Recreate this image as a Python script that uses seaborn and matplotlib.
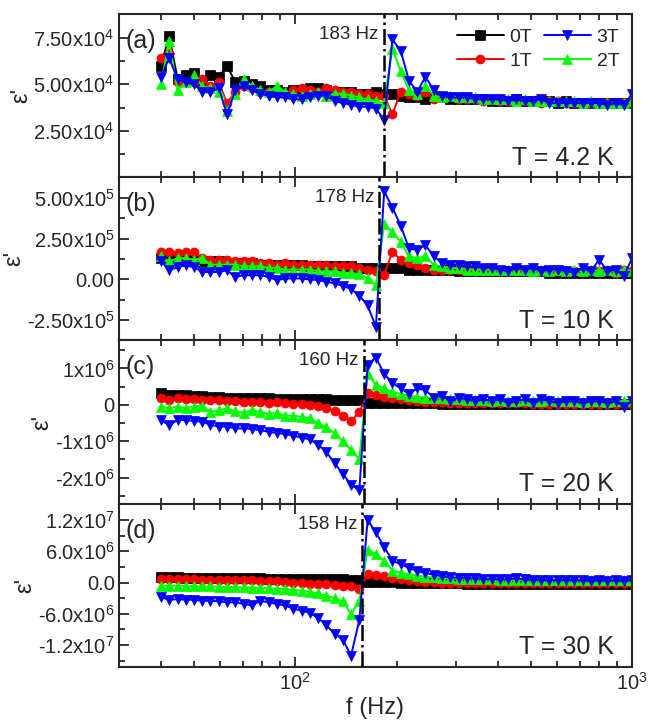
import numpy as np
import matplotlib
matplotlib.use('Agg')
import matplotlib.pyplot as plt
import matplotlib.ticker as mticker
from matplotlib.transforms import blended_transform_factory
import seaborn as sns

#%% data
freq_hz = [40.0, 42.3, 44.8, 47.4, 50.1, 53.0, 56.1, 59.4, 62.8, 66.5,
           70.4, 74.4, 78.8, 83.4, 88.2, 93.3, 98.7, 104.5, 110.5, 117.0,
           123.8, 130.9, 138.6, 146.6, 155.1, 164.1, 173.7, 183.8, 194.4, 205.7,
           217.7, 230.3, 243.7, 257.9, 272.8, 288.7, 305.5, 323.2, 342.0, 361.9,
           382.9, 405.1, 428.7, 453.6, 479.9, 507.8, 537.3, 568.5, 601.5, 636.5,
           673.4, 712.6, 754.0, 797.8, 844.1, 893.1, 945.0, 1000.0]

# (a) T = 4.2 K, units of 1e4
a_0T = [6.0, 7.6, 5.3, 5.5, 5.6, 5.2, 5.5, 5.4, 6.0, 5.1,
        5.2, 5.0, 4.9, 4.7, 4.7, 4.6, 4.7, 4.7, 4.8, 4.8,
        4.7, 4.6, 4.6, 4.6, 4.5, 4.5, 4.6, 4.5, 4.5, 4.4,
        4.3, 4.3, 4.2, 4.3, 4.3, 4.2, 4.2, 4.2, 4.2, 4.2,
        4.1, 4.1, 4.1, 4.2, 4.1, 4.1, 4.1, 4.1, 4.0, 4.1,
        4.0, 4.0, 4.0, 4.0, 4.0, 4.0, 4.0, 4.0]
a_1T = [6.4, 6.7, 5.1, 5.1, 5.1, 5.3, 4.9, 5.1, 4.0, 4.6,
        4.9, 4.8, 4.6, 4.6, 4.6, 4.5, 4.7, 4.8, 4.7, 4.6,
        4.8, 4.7, 4.6, 4.6, 4.5, 4.5, 4.4, 4.4, 3.4, 4.6,
        4.5, 4.4, 4.6, 4.2, 4.3, 4.3, 4.2, 4.2, 4.2, 4.1,
        4.2, 4.1, 4.1, 4.1, 4.1, 4.1, 4.0, 4.1, 4.1, 4.0,
        4.0, 4.0, 4.0, 4.0, 4.0, 4.0, 4.0, 4.0]
a_2T = [5.0, 7.3, 4.7, 5.1, 5.5, 4.9, 4.8, 4.6, 3.6, 4.5,
        5.3, 4.9, 4.7, 4.6, 4.9, 4.6, 4.5, 4.4, 4.5, 4.6,
        4.4, 4.5, 4.5, 4.4, 4.3, 4.2, 4.1, 4.0, 6.9, 5.7,
        4.7, 4.5, 4.9, 4.4, 4.3, 4.4, 4.3, 4.3, 4.3, 4.2,
        4.2, 4.2, 4.2, 4.1, 4.2, 4.1, 4.1, 4.1, 4.1, 4.1,
        4.1, 4.0, 4.1, 4.0, 4.0, 4.0, 4.0, 4.1]
a_3T = [5.4, 6.4, 5.3, 5.1, 5.0, 4.6, 4.6, 4.8, 3.4, 4.7,
        4.9, 4.7, 4.5, 4.4, 4.3, 4.3, 4.2, 4.2, 4.3, 4.4,
        4.4, 4.1, 4.0, 3.9, 3.8, 3.8, 3.7, 3.1, 7.4, 6.8,
        5.2, 4.6, 5.4, 4.7, 4.4, 4.3, 4.3, 4.3, 4.2, 4.2,
        4.2, 4.2, 4.1, 4.2, 4.1, 4.1, 4.2, 4.0, 4.0, 4.0,
        4.0, 4.0, 4.0, 4.0, 3.9, 4.0, 3.9, 4.5]

# (b) T = 10 K, units of 1e5
b_0T = [1.3, 1.3, 1.2, 1.2, 1.2, 1.1, 1.1, 1.1, 1.0, 1.0,
        1.0, 1.0, 0.9, 0.9, 0.9, 0.9, 0.9, 0.9, 0.8, 0.8,
        0.8, 0.8, 0.8, 0.8, 0.7, 0.7, 0.7, 0.7, 0.7, 0.7,
        0.6, 0.6, 0.6, 0.6, 0.6, 0.6, 0.5, 0.5, 0.5, 0.5,
        0.5, 0.5, 0.5, 0.5, 0.5, 0.5, 0.5, 0.4, 0.4, 0.4,
        0.4, 0.4, 0.4, 0.4, 0.4, 0.4, 0.4, 0.4]
b_1T = [1.7, 1.7, 1.6, 1.7, 1.7, 1.3, 1.2, 1.2, 1.2, 1.1,
        1.1, 1.1, 1.0, 1.0, 0.9, 1.0, 0.9, 0.9, 0.9, 0.9,
        0.9, 0.8, 0.8, 0.8, 0.7, 0.6, 0.5, 0.25, 1.7, 1.2,
        1.0, 0.9, 0.7, 0.6, 0.6, 0.6, 0.6, 0.6, 0.5, 0.5,
        0.5, 0.5, 0.5, 0.5, 0.5, 0.5, 0.5, 0.5, 0.5, 0.5,
        0.5, 0.5, 0.5, 0.5, 0.5, 0.4, 0.6, 0.5]
b_2T = [1.4, 1.1, 1.3, 1.3, 1.2, 1.3, 0.9, 0.9, 0.9, 0.9,
        0.8, 0.8, 0.8, 0.7, 0.7, 0.6, 0.6, 0.6, 0.6, 0.5,
        0.5, 0.5, 0.4, 0.4, 0.3, 0.1, -0.35, 3.4, 2.9, 2.3,
        1.4, 1.3, 1.4, 0.9, 0.8, 0.7, 0.7, 0.6, 0.6, 0.6,
        0.6, 0.6, 0.6, 0.6, 0.6, 0.5, 0.6, 0.5, 0.6, 0.5,
        0.6, 0.5, 0.6, 0.5, 0.6, 0.5, 0.6, 0.5]
b_3T = [1.15, 0.55, 0.75, 0.85, 0.75, 0.45, 0.45, 0.45, 0.55, 0.15,
        0.25, 0.25, 0.25, 0.15, -0.05, 0.05, 0.05, 0.05, 0.0, -0.05,
        -0.15, -0.25, -0.4, -0.6, -1.0, -1.6, -2.9, 5.4, 4.4, 3.3,
        1.9, 1.8, 2.1, 1.4, 1.0, 0.9, 0.9, 0.8, 0.8, 0.7,
        0.7, 0.6, 0.5, 0.7, 0.6, 0.7, 0.5, 0.6, 0.6, 0.5,
        0.4, 0.7, 0.5, 1.2, 0.5, 0.6, 0.2, 1.3]

# (c) T = 20 K, units of 1e6
c_0T = [0.32, 0.27, 0.26, 0.26, 0.25, 0.24, 0.22, 0.22, 0.20, 0.20,
        0.20, 0.19, 0.18, 0.18, 0.17, 0.17, 0.16, 0.16, 0.15, 0.15,
        0.15, 0.14, 0.14, 0.13, 0.12, 0.06, 0.05, 0.05, 0.05, 0.05,
        0.04, 0.04, 0.04, 0.04, 0.03, 0.03, 0.03, 0.03, 0.03, 0.03,
        0.03, 0.03, 0.03, 0.02, 0.02, 0.02, 0.02, 0.02, 0.02, 0.02,
        0.02, 0.02, 0.02, 0.02, 0.02, 0.02, 0.02, 0.02]
c_1T = [0.18, 0.12, 0.20, 0.17, 0.15, 0.12, 0.14, 0.12, 0.10, 0.10,
        0.08, 0.08, 0.07, 0.05, 0.07, 0.04, 0.03, 0.02, 0.00, -0.03,
        -0.08, -0.17, -0.32, -0.44, -0.21, 0.32, 0.27, 0.22, 0.18, 0.15,
        0.12, 0.10, 0.09, 0.08, 0.07, 0.06, 0.06, 0.05, 0.05, 0.05,
        0.05, 0.04, 0.04, 0.04, 0.04, 0.03, 0.03, 0.03, 0.03, 0.03,
        0.03, 0.03, 0.03, 0.03, 0.03, 0.03, 0.03, 0.03]
c_2T = [-0.05, -0.10, -0.05, -0.10, -0.05, -0.02, -0.20, -0.15, -0.10, -0.18,
        -0.22, -0.15, -0.20, -0.25, -0.22, -0.30, -0.30, -0.33, -0.37, -0.50,
        -0.62, -0.78, -1.00, -1.25, -1.50, 0.85, 0.55, 0.45, 0.35, 0.30,
        0.25, 0.22, 0.20, 0.20, 0.18, 0.15, 0.15, 0.13, 0.12, 0.12,
        0.10, 0.12, 0.10, 0.10, 0.12, 0.10, 0.10, 0.12, 0.10, 0.10,
        0.10, 0.08, 0.10, 0.10, 0.08, 0.10, 0.10, 0.12]
c_3T = [-0.42, -0.56, -0.42, -0.42, -0.45, -0.46, -0.55, -0.60, -0.60, -0.65,
        -0.65, -0.66, -0.70, -0.74, -0.78, -0.80, -0.85, -0.90, -0.95, -1.10,
        -1.30, -1.60, -1.90, -2.20, -2.35, 1.10, 1.30, 0.85, 0.60, 0.45,
        0.30, 0.45, 0.40, 0.20, 0.25, 0.10, 0.20, 0.15, 0.10, 0.15,
        0.10, 0.15, 0.05, 0.10, 0.15, 0.05, 0.15, 0.10, 0.05, 0.10,
        0.10, 0.05, 0.10, 0.10, 0.05, 0.10, -0.05, 0.10]

# (d) T = 30 K, units of 1e6
d_0T = [1.0, 1.0, 1.0, 0.95, 0.95, 0.9, 0.9, 0.9, 0.85, 0.85,
        0.8, 0.8, 0.8, 0.75, 0.75, 0.7, 0.7, 0.7, 0.65, 0.65,
        0.6, 0.6, 0.6, 0.55, 0.5, 0.1, 0.1, 0.05, 0.05, 0.0,
        -0.05, -0.1, -0.1, -0.1, -0.15, -0.15, -0.15, -0.2, -0.2, -0.2,
        -0.2, -0.2, -0.2, -0.2, -0.2, -0.2, -0.2, -0.2, -0.2, -0.2,
        -0.2, -0.2, -0.2, -0.2, -0.2, -0.2, -0.2, -0.2]
d_1T = [0.6, 0.6, 0.6, 0.6, 0.6, 0.55, 0.55, 0.5, 0.5, 0.5,
        0.45, 0.4, 0.35, 0.3, 0.2, 0.1, 0.0, -0.1, -0.2, -0.3,
        -0.35, -0.45, -0.6, -0.75, -1.2, 1.6, 1.5, 1.2, 0.9, 0.6,
        0.4, 0.2, 0.1, 0.05, 0.0, -0.1, -0.1, -0.1, -0.15, -0.15,
        -0.15, -0.15, -0.15, -0.15, -0.15, -0.15, -0.15, -0.15, -0.15, -0.15,
        -0.15, -0.15, -0.15, -0.15, -0.15, -0.15, -0.15, -0.15]
d_2T = [-0.6, -0.6, -0.6, -0.65, -0.7, -0.75, -0.75, -0.8, -0.85, -0.9,
        -0.95, -1.0, -1.05, -1.1, -1.2, -1.3, -1.4, -1.6, -1.8, -2.1,
        -2.5, -3.0, -3.6, -6.0, -3.6, 6.3, 5.4, 4.2, 2.3, 1.9,
        1.6, 1.3, 1.1, 1.0, 0.9, 0.8, 0.7, 0.7, 0.6, 0.6,
        0.6, 0.5, 0.5, 0.5, 0.5, 0.4, 0.5, 0.4, 0.4, 0.4,
        0.4, 0.4, 0.4, 0.4, 0.4, 0.4, 0.4, 0.5]
d_3T = [-2.8, -3.3, -3.2, -3.3, -3.3, -3.5, -3.5, -3.6, -3.8, -3.8,
        -4.1, -4.4, -3.5, -3.8, -4.1, -4.4, -5.0, -5.4, -5.8, -6.8,
        -8.2, -9.8, -11.0, -14.0, -7.2, 12.0, 9.6, 6.8, 4.2, 3.5,
        2.8, 2.2, 1.8, 1.5, 1.2, 1.0, 0.9, 0.8, 0.8, 0.7,
        0.7, 0.6, 0.6, 0.8, 0.6, 0.5, 0.5, 0.4, 0.4, 0.5,
        0.4, 0.4, 0.3, 0.4, 0.3, 0.4, 0.3, 0.5]

series_labels = ['0T', '1T', '2T', '3T']
series_colors = ['#000000', '#ff0000', '#00ff00', '#0000ff']
series_markers = ['s', 'o', '^', 'v']

panel_tags = ['(a)', '(b)', '(c)', '(d)']
panel_temps = ['T = 4.2 K', 'T = 10 K', 'T = 20 K', 'T = 30 K']
panel_fc = [183, 178, 160, 158]
panel_fc_text = ['183 Hz', '178 Hz', '160 Hz', '158 Hz']
panel_unit = [1e4, 1e5, 1e6, 1e6]
panel_data = [[a_0T, a_1T, a_2T, a_3T], [b_0T, b_1T, b_2T, b_3T],
              [c_0T, c_1T, c_2T, c_3T], [d_0T, d_1T, d_2T, d_3T]]
panel_ylim = [(0.04e4, 8.77e4), (-3.75e5, 6.27e5), (-2.72e6, 1.77e6), (-1.62e7, 1.51e7)]
panel_yticks = [[2.5e4, 5.0e4, 7.5e4], [-2.5e5, 0, 2.5e5, 5.0e5],
                [-2e6, -1e6, 0, 1e6], [-1.2e7, -6e6, 0, 6e6, 1.2e7]]
panel_yticklabels = [['2.50x10$^{4}$', '5.00x10$^{4}$', '7.50x10$^{4}$'],
                     ['-2.50x10$^{5}$', '0.00', '2.50x10$^{5}$', '5.00x10$^{5}$'],
                     ['-2x10$^{6}$', '-1x10$^{6}$', '0', '1x10$^{6}$'],
                     ['-1.2x10$^{7}$', '-6.0x10$^{6}$', '0.0', '6.0x10$^{6}$', '1.2x10$^{7}$']]
panel_yminor = [1.25e4, 1.25e5, 0.5e6, 3e6]

#%% figure
sns.set_style("ticks")
plt.rcParams['font.family'] = ['Liberation Sans', 'DejaVu Sans']
plt.rcParams['mathtext.fontset'] = 'custom'
plt.rcParams['mathtext.rm'] = 'Liberation Sans'
plt.rcParams['mathtext.it'] = 'Liberation Sans:italic'
plt.rcParams['mathtext.default'] = 'rm'

fig, axes = plt.subplots(4, 1, figsize=(6.64, 7.27), dpi=100, sharex=True)
fig.subplots_adjust(left=0.179, right=0.952, top=0.981, bottom=0.0825, hspace=0)

for i, ax in enumerate(axes):
    handles = []
    for vals, lab, col, mk in zip(panel_data[i], series_labels, series_colors, series_markers):
        y = np.array(vals) * panel_unit[i]
        sns.lineplot(x=freq_hz, y=y, ax=ax, color=col, marker=mk, markersize=6.5,
                     markeredgecolor=col, markeredgewidth=0.5, linewidth=1.4,
                     label=lab, legend=False, sort=False)
        handles.append(ax.lines[-1])
    if ax.get_legend():
        ax.get_legend().remove()

    ax.axvline(panel_fc[i], color='k', ls='-.', lw=1.8, zorder=5)
    trans = blended_transform_factory(ax.transData, ax.transAxes)
    ax.text(panel_fc[i] / 1.035, 0.875, panel_fc_text[i], transform=trans,
            ha='right', va='center', fontsize=13.5)
    ax.text(0.012, 0.835, panel_tags[i], transform=ax.transAxes,
            ha='left', va='center', fontsize=18)
    ax.text(0.965, 0.12, panel_temps[i], transform=ax.transAxes,
            ha='right', va='center', fontsize=18)

    ax.set_xscale('log')
    ax.set_xlim(30, 1000)
    ax.set_ylim(*panel_ylim[i])
    ax.yaxis.set_major_locator(mticker.FixedLocator(panel_yticks[i]))
    ax.yaxis.set_major_formatter(mticker.FixedFormatter(panel_yticklabels[i]))
    ax.yaxis.set_minor_locator(mticker.MultipleLocator(panel_yminor[i]))
    ax.xaxis.set_major_locator(mticker.LogLocator(base=10))
    ax.xaxis.set_minor_locator(mticker.LogLocator(base=10, subs=np.arange(2, 10)))
    ax.xaxis.set_minor_formatter(mticker.NullFormatter())

    ax.tick_params(which='both', direction='in', top=True, right=False, width=1.3,
                   labelsize=14.5)
    ax.tick_params(axis='y', pad=3)
    ax.tick_params(which='major', length=7)
    ax.tick_params(which='minor', length=4)
    for s in ax.spines.values():
        s.set_linewidth(1.5)
    ax.set_ylabel("ε'", fontsize=17, labelpad=1)
    ax.set_xlabel('')

    if i == 0:
        order = [0, 1, 3, 2]
        ax.legend([handles[j] for j in order], [series_labels[j] for j in order],
                  ncol=2, loc='upper right', bbox_to_anchor=(0.975, 0.91),
                  frameon=False, fontsize=14, handlelength=2.4, handletextpad=0.3,
                  columnspacing=0.6, labelspacing=0.3, borderpad=0, borderaxespad=0)

axes[-1].set_xlabel('f (Hz)', fontsize=17, labelpad=2)

fig.savefig('out.png', dpi=100)
